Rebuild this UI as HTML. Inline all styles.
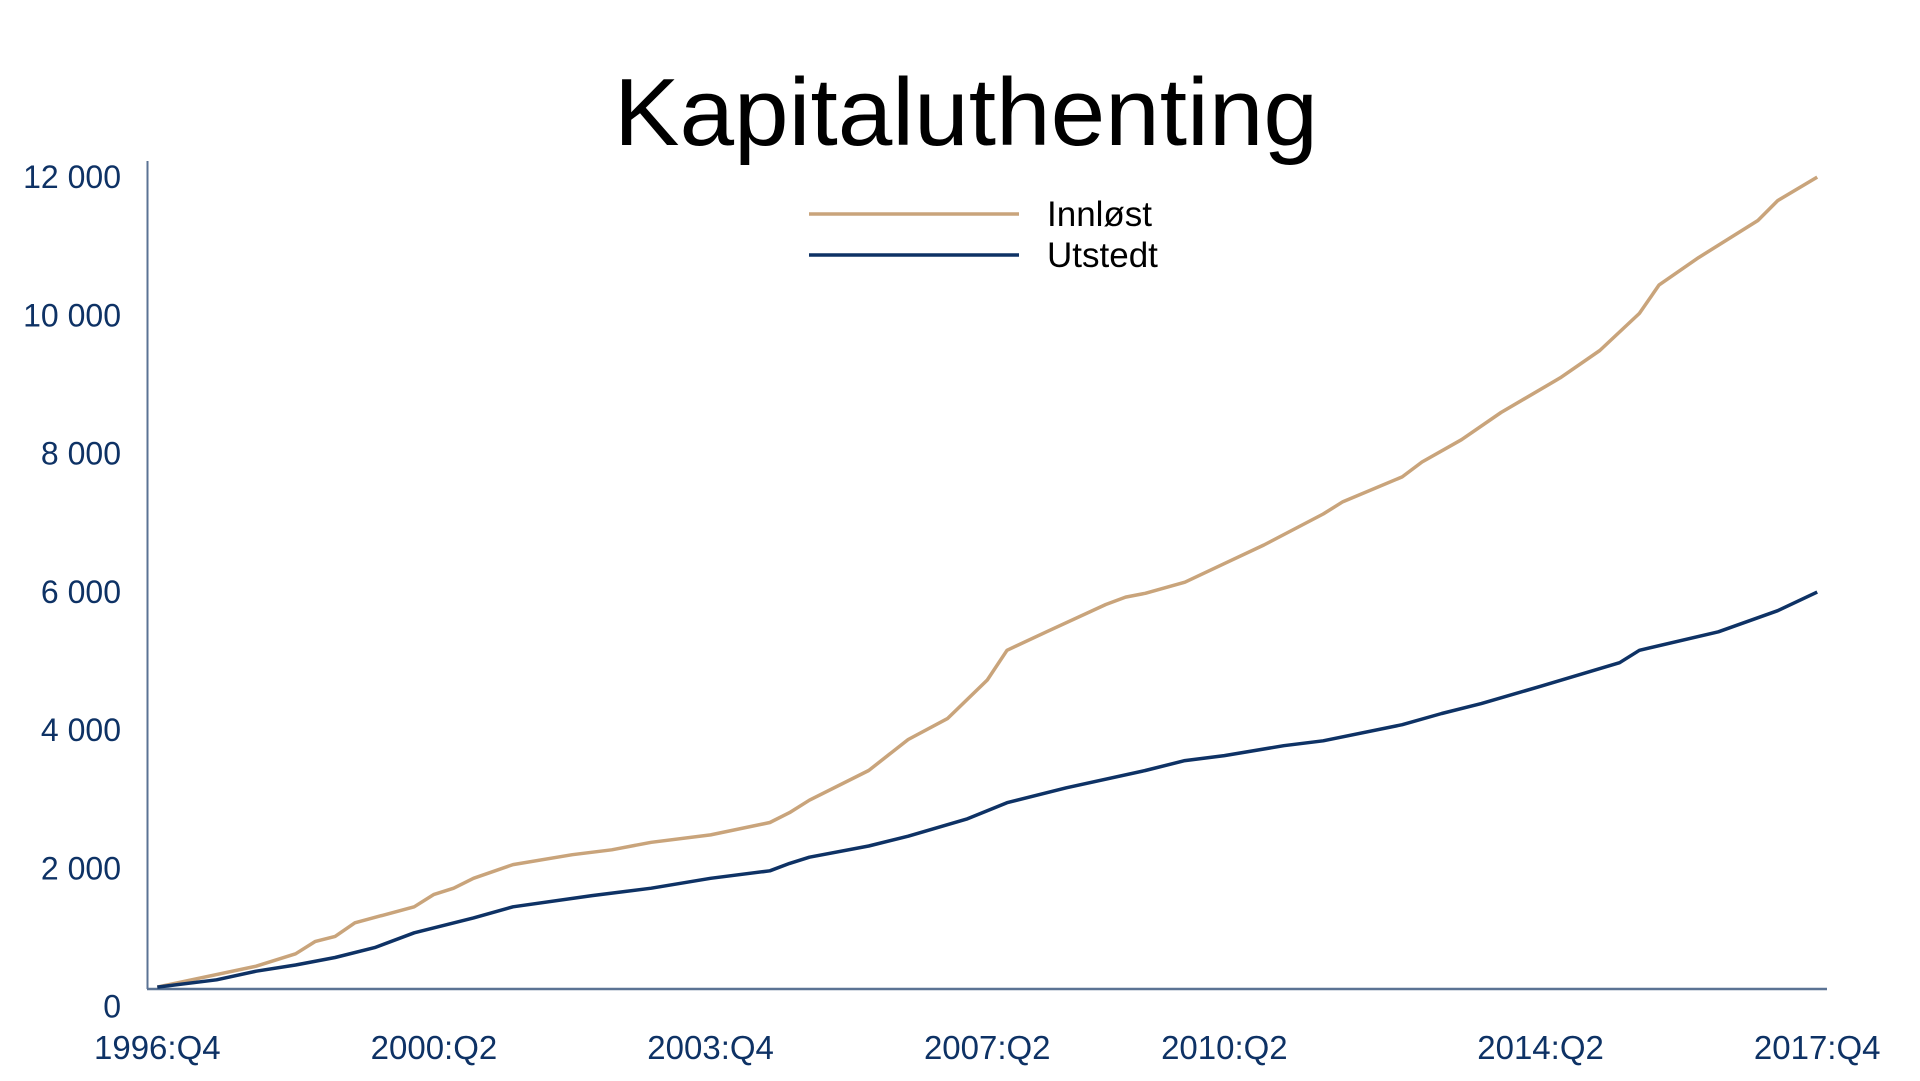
<!DOCTYPE html>
<html><head><meta charset="utf-8"><style>
html,body{margin:0;padding:0;background:#fff;}
svg{display:block;font-family:"Liberation Sans",sans-serif;}
</style></head><body>
<svg id="chart" width="1920" height="1081" viewBox="0 0 1920 1081">
<text x="966" y="145" text-anchor="middle" font-size="96" fill="#000" textLength="704" lengthAdjust="spacingAndGlyphs">Kapitaluthenting</text>
<g id="yaxis"></g>
<g id="xaxis"></g>
<g id="series"></g>
<g>
<line x1="809" y1="214" x2="1019" y2="214" stroke="#c9a47b" stroke-width="3.5"/>
<text x="1047" y="226" font-size="35" fill="#000">Innløst</text>
<line x1="809" y1="255" x2="1019" y2="255" stroke="#0e3265" stroke-width="3.5"/>
<text x="1047" y="267" font-size="35" fill="#000">Utstedt</text>
</g>
</svg>
<script>
const yTickValues=[0,2000,4000,6000,8000,10000,12000];
const yTickLabels=["0","2 000","4 000","6 000","8 000","10 000","12 000"];
const xTickIdx=[0,14,28,42,54,70,84];
const xTickLabels=["1996:Q4","2000:Q2","2003:Q4","2007:Q2","2010:Q2","2014:Q2","2017:Q4"];
const innlostIdx=[0,5,7,8,9,10,13,14,15,16,18,21,23,25,28,31,32,33,36,38,40,42,43,45,48,49,50,52,54,56,59,60,63,64,66,68,71,73,75,76,78,81,82,84];
const innlostVal=[20,330,513,696,770,971,1209,1392,1484,1630,1832,1979,2052,2162,2272,2455,2601,2785,3224,3682,3994,4562,5001,5276,5679,5789,5844,6009,6284,6559,7017,7200,7566,7786,8116,8519,9032,9435,9984,10406,10809,11358,11652,12000];
const utstedtIdx=[0,3,5,7,9,11,13,16,18,22,25,28,31,32,33,36,38,41,43,46,50,52,54,57,59,63,65,67,70,74,75,79,82,84];
const utstedtVal=[20,128,256,348,458,605,824,1044,1209,1374,1484,1630,1740,1850,1942,2107,2253,2510,2748,2968,3224,3371,3444,3591,3664,3902,4067,4214,4470,4818,5001,5276,5588,5862];

const NS="http://www.w3.org/2000/svg";
const X0=157.3,X1=1817.2,NQ=84,Y0=988.5,Y1=177.1,VMAX=12000;
const xs=i=>X0+i*(X1-X0)/NQ;
const ys=v=>Y0-v/VMAX*(Y0-Y1);
function mk(tag,attrs,parent){const e=document.createElementNS(NS,tag);for(const k in attrs)e.setAttribute(k,attrs[k]);parent.appendChild(e);return e;}
const yax=document.getElementById('yaxis'),xax=document.getElementById('xaxis'),ser=document.getElementById('series');
const yl=mk('line',{x1:147.5,y1:161,x2:147.5,y2:989,stroke:'#5b7394','stroke-width':2},yax);


const xl=mk('line',{x1:147,y1:989,x2:1827,y2:989,stroke:'#5b7394','stroke-width':2.5},xax);


yTickValues.forEach((v,i)=>{
  const t=mk('text',{x:121,y:ys(v)+11+ (v/VMAX)*0 + (1-v/VMAX)*18,'text-anchor':'end','font-size':32,fill:'#0e3265'},yax);
  t.textContent=yTickLabels[i];
  
  
});
xTickIdx.forEach((q,i)=>{
  const t=mk('text',{x:xs(q),y:1059,'text-anchor':'middle','font-size':33,fill:'#0e3265'},xax);
  t.textContent=xTickLabels[i];
  
  
});
function line(idx,val,color,name){
  const d=idx.map((q,i)=>(i?'L':'M')+xs(q).toFixed(1)+','+ys(val[i]).toFixed(1)).join(' ');
  const p=mk('path',{d:d,fill:'none',stroke:color,'stroke-width':3.5,'stroke-linejoin':'round'},ser);
  
  
}
line(innlostIdx,innlostVal,'#c9a47b','innlost-line');
line(utstedtIdx,utstedtVal,'#0e3265','utstedt-line');
</script>
</body></html>
